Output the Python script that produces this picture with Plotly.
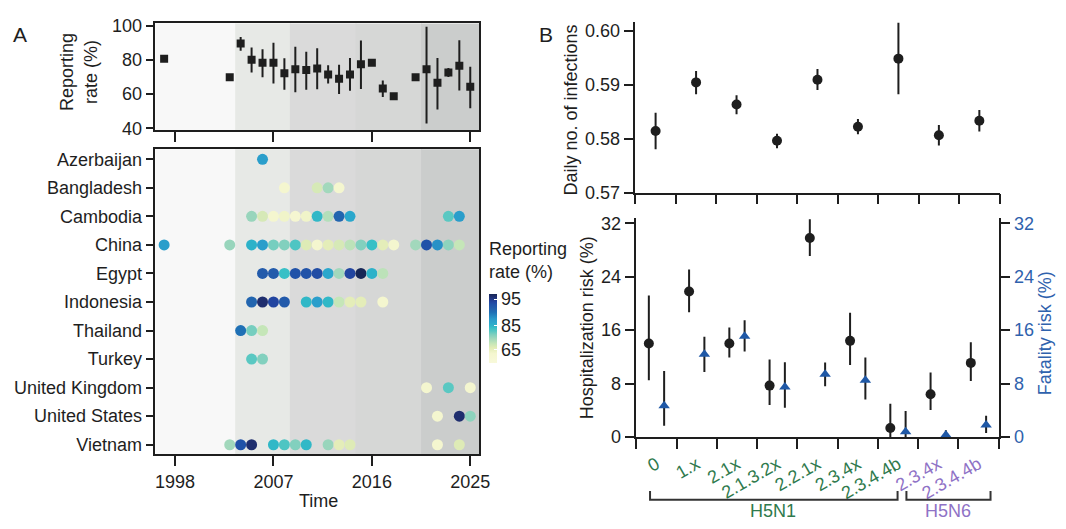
import numpy as np
import plotly.graph_objects as go

W, H = 1066, 529


def px(x):
    return x / W


def py(y):
    return 1 - y / H


# ---------------- Panel A data ----------------
year_ticks = [1998, 2007, 2016, 2025]
band_edges = [1996.2, 2003.5, 2008.5, 2014.5, 2020.5, 2025.8]
band_colors = ["#f8f8f8", "#e7e9e6", "#dadada", "#d6d7d6", "#cbcdcc"]

top_years = [1997, 2003, 2004, 2005, 2006, 2007, 2008, 2009, 2010, 2011, 2012, 2013,
             2014, 2015, 2016, 2017, 2018, 2020, 2021, 2022, 2023, 2024, 2025]
top_rate = [80.6, 69.8, 89.6, 80.0, 78.3, 78.3, 72.1, 74.5, 74.0, 74.9, 71.5, 68.9,
            71.5, 77.4, 78.3, 63.2, 58.7, 69.8, 74.5, 66.6, 72.6, 76.6, 64.2]
top_hi = [80.6, 69.8, 93.4, 87.2, 86.2, 90.0, 80.9, 87.7, 84.7, 86.8, 76.8, 77.2,
          81.1, 91.3, 78.3, 67.9, 58.7, 69.8, 99.4, 81.1, 75.3, 91.5, 76.0]
top_lo = [80.6, 69.8, 85.3, 72.6, 69.8, 66.2, 62.5, 61.0, 62.5, 62.8, 66.2, 60.0,
          61.9, 63.0, 78.3, 58.3, 58.7, 69.8, 42.8, 50.9, 70.0, 62.1, 51.7]

countries = ["Azerbaijan", "Bangladesh", "Cambodia", "China", "Egypt", "Indonesia",
             "Thailand", "Turkey", "United Kingdom", "United States", "Vietnam"]
country_years = [
    [2006],
    [2008, 2011, 2012, 2013],
    [2005, 2006, 2007, 2008, 2009, 2010, 2011, 2012, 2013, 2014, 2023, 2024],
    [1997, 2003, 2005, 2006, 2007, 2008, 2009, 2010, 2011, 2012, 2013, 2014, 2015,
     2016, 2017, 2018, 2020, 2021, 2022, 2023, 2024],
    [2006, 2007, 2008, 2009, 2010, 2011, 2012, 2013, 2014, 2015, 2016, 2017],
    [2005, 2006, 2007, 2008, 2010, 2011, 2012, 2013, 2014, 2015, 2017],
    [2004, 2005, 2006],
    [2005, 2006],
    [2021, 2023, 2025],
    [2022, 2024, 2025],
    [2003, 2004, 2005, 2007, 2008, 2009, 2010, 2012, 2013, 2014, 2022, 2024],
]
country_rates = [
    [87],
    [62, 68, 74, 62],
    [75, 68, 62, 63, 61, 63, 84, 72, 91, 86, 80, 87],
    [87, 75, 85, 87, 78, 77, 81, 67, 62, 66, 68, 71, 77, 83, 66, 62, 74, 93, 88, 76, 70],
    [92, 92, 83, 93, 93, 93.5, 86, 74, 94, 97, 85, 71],
    [91, 96, 94, 92, 84, 87, 84, 70, 66, 66, 62],
    [90, 78, 70],
    [80, 77],
    [62, 80, 62],
    [62, 96, 76],
    [74, 93, 96, 84, 81, 77, 84, 75, 66, 67, 62, 67],
]
cbar_ticks = [65, 85, 95]

# non-linear colour bar scale (value -> position on bar)
scale_vals = [55, 65, 85, 95, 97]
scale_pos = [0.0, 0.196, 0.543, 0.924, 1.0]
colorscale = [[0, "#f8f9da"], [0.137, "#f4f6cf"], [0.222, "#e2ecb6"], [0.283, "#c5e6b8"],
              [0.361, "#9dd6bc"], [0.413, "#7dcfbe"], [0.456, "#5ac8c2"], [0.508, "#38c0c6"],
              [0.534, "#2eb4c8"], [0.581, "#2aa7cc"], [0.638, "#2a9aca"], [0.733, "#1f70b5"],
              [0.79, "#2460ac"], [0.848, "#2152a8"], [0.886, "#2245a0"], [0.962, "#1f2e6e"],
              [1, "#172756"]]

# ---------------- Panel B data ----------------
clades = ["0", "1.x", "2.1x", "2.1.3.2x", "2.2.1x", "2.3.4x", "2.3.4.4b", "2.3.4x", "2.3.4.4b"]
clade_subtype = ["H5N1"] * 7 + ["H5N6"] * 2
subtype_colors = {"H5N1": "#2f7a4d", "H5N6": "#8f72c6"}

inf_mean = [0.5814, 0.5904, 0.5863, 0.5796, 0.5909, 0.5822, 0.5948, 0.5806, 0.5833]
inf_hi = [0.5848, 0.5925, 0.5880, 0.5809, 0.5929, 0.5836, 0.6015, 0.5825, 0.5853]
inf_lo = [0.5780, 0.5882, 0.5845, 0.5782, 0.5890, 0.5808, 0.5882, 0.5787, 0.5813]

hosp_mean = [14.0, 21.8, 14.0, 7.7, 29.8, 14.4, 1.35, 6.4, 11.1]
hosp_hi = [21.2, 25.1, 16.4, 11.6, 32.6, 18.6, 5.0, 9.65, 14.2]
hosp_lo = [8.5, 18.7, 11.9, 4.8, 27.1, 10.8, 0.0, 4.05, 8.4]

fat_mean = [4.7, 12.4, 15.1, 7.5, 9.4, 8.5, 0.8, 0.3, 1.8]
fat_hi = [9.9, 15.0, 17.5, 11.2, 11.15, 11.9, 3.9, 1.0, 3.2]
fat_lo = [1.7, 9.75, 12.8, 4.4, 7.6, 5.6, 0.0, 0.0, 0.6]

risk_ticks = [0, 8, 16, 24, 32]
inf_ticks = [0.57, 0.58, 0.59, 0.60]

INK = "#1e1e1e"
BLUE = "#1f58a6"
FONT = "Arial, Liberation Sans, Helvetica, sans-serif"
FS = 18

fig = go.Figure()

# Panel A top: reporting rate by year
tr = np.array(top_rate)
fig.add_trace(go.Scatter(
    x=top_years, y=top_rate, mode="markers", xaxis="x", yaxis="y",
    marker=dict(symbol="square", size=8, color=INK),
    error_y=dict(type="data", symmetric=False,
                 array=np.array(top_hi) - tr, arrayminus=tr - np.array(top_lo),
                 color=INK, thickness=2, width=0),
))

# Panel A bottom: country dots
xs, ys, vs = [], [], []
for c, yrs, rts in zip(countries, country_years, country_rates):
    xs += yrs
    ys += [c] * len(yrs)
    vs += rts
pos = np.interp(vs, scale_vals, scale_pos)
fig.add_trace(go.Scatter(
    x=xs, y=ys, mode="markers", xaxis="x2", yaxis="y2",
    marker=dict(size=11, color=pos, colorscale=colorscale, cmin=0, cmax=1,
                line=dict(width=0),
                colorbar=dict(x=px(494), xanchor="left", xpad=0, y=py(332), yanchor="middle",
                              len=92 / H, lenmode="fraction", thickness=8, outlinewidth=0,
                              tickmode="array",
                              tickvals=list(np.interp(cbar_ticks, scale_vals, scale_pos)),
                              ticktext=[str(t) for t in cbar_ticks],
                              ticks="inside", ticklen=3, tickcolor="white", tickwidth=1,
                              tickfont=dict(size=FS, color=INK, family=FONT))),
))

# Panel B top: daily infections
idx = np.arange(len(clades))
im = np.array(inf_mean)
fig.add_trace(go.Scatter(
    x=idx, y=inf_mean, mode="markers", xaxis="x3", yaxis="y3",
    marker=dict(symbol="circle", size=10, color=INK),
    error_y=dict(type="data", symmetric=False, array=np.array(inf_hi) - im,
                 arrayminus=im - np.array(inf_lo), color=INK, thickness=2, width=0),
))

# Panel B bottom: hospitalization (left) and fatality (right)
off = 0.19
hm = np.array(hosp_mean)
fig.add_trace(go.Scatter(
    x=idx - off, y=hosp_mean, mode="markers", xaxis="x4", yaxis="y4", cliponaxis=False,
    marker=dict(symbol="circle", size=10, color=INK),
    error_y=dict(type="data", symmetric=False, array=np.array(hosp_hi) - hm,
                 arrayminus=hm - np.array(hosp_lo), color=INK, thickness=2, width=0),
))
fm = np.array(fat_mean)
fig.add_trace(go.Scatter(
    x=idx + off, y=fat_mean, mode="markers", xaxis="x4", yaxis="y5", cliponaxis=False,
    marker=dict(symbol="triangle-up", size=10, color=BLUE),
    error_y=dict(type="data", symmetric=False, array=np.array(fat_hi) - fm,
                 arrayminus=fm - np.array(fat_lo), color=INK, thickness=2, width=0),
))

axis_common = dict(showgrid=False, zeroline=False, showline=True, linecolor=INK, linewidth=1.5,
                   ticks="outside", tickcolor=INK, tickwidth=1.5,
                   tickfont=dict(size=FS, color=INK, family=FONT))

tick_text_b = [f"<span style='color:{subtype_colors[s]}'>{c}</span>"
               for c, s in zip(clades, clade_subtype)]

fig.update_layout(
    width=W, height=H, margin=dict(l=0, r=0, t=0, b=0), autosize=False,
    paper_bgcolor="white", plot_bgcolor="rgba(0,0,0,0)", showlegend=False,
    font=dict(family=FONT, size=FS, color=INK),
    xaxis=dict(domain=[px(157), px(484)], anchor="y", range=[band_edges[0], band_edges[-1]],
               tickvals=year_ticks, showticklabels=False, ticklen=10, mirror=True, **axis_common),
    yaxis=dict(domain=[py(127), py(17)], anchor="x", range=[39, 101.3],
               tickvals=[40, 60, 80, 100], ticklen=8, mirror=True, **axis_common),
    xaxis2=dict(domain=[px(157), px(484)], anchor="y2", range=[band_edges[0], band_edges[-1]],
                tickvals=year_ticks, ticklen=10, mirror=True, **axis_common),
    yaxis2=dict(domain=[py(462), py(147)], anchor="x2", type="category",
                categoryorder="array", categoryarray=countries, range=[10.33, -0.35],
                ticklen=8, mirror=True, **axis_common),
    xaxis3=dict(domain=[px(642), px(1010)], anchor="y3", range=[-0.5, 8.5],
                tickvals=list(np.arange(len(clades) + 1) - 0.5), showticklabels=False,
                ticklen=10, **axis_common),
    yaxis3=dict(domain=[py(191.7), py(16)], anchor="x3", range=[0.57, 0.6015],
                tickvals=inf_ticks, ticktext=[f"{t:.2f}" for t in inf_ticks], ticklen=10,
                **axis_common),
    xaxis4=dict(domain=[px(643), px(1009)], anchor="y4", range=[-0.5, 8.5],
                tickvals=list(idx), ticktext=tick_text_b, tickangle=-30, ticklen=0,
                ticklabelstandoff=8,
                minor=dict(tickmode="array", tickvals=list(np.arange(len(clades) + 1) - 0.5),
                           ticks="outside", ticklen=10, tickcolor=INK, tickwidth=1.5),
                **{k: v for k, v in axis_common.items() if k != "ticks"}, ticks=""),
    yaxis4=dict(domain=[py(444.3), py(218)], anchor="x4", range=[0, 32.8],
                tickvals=risk_ticks, ticklen=10, **axis_common),
    yaxis5=dict(overlaying="y4", anchor="x4", side="right", range=[0, 32.8],
                tickvals=risk_ticks, ticklen=10,
                **{k: v for k, v in axis_common.items() if k != "tickfont"},
                tickfont=dict(size=FS, color="#2f62ad", family=FONT)),
)

# background bands in panel A (slight overlap avoids hairline gaps)
shapes = []
for ax in ["", "2"]:
    for i, col in enumerate(band_colors):
        x1 = band_edges[i + 1] + (0.1 if i < len(band_colors) - 1 else 0)
        shapes.append(dict(type="rect", xref="x" + ax, yref=("y" + ax) + " domain",
                           x0=band_edges[i], x1=x1, y0=0, y1=1,
                           fillcolor=col, line=dict(width=0), layer="below"))

# subtype brackets under panel B
bracket_spans = {"H5N1": (-0.16, 5.99), "H5N6": (6.21, 8.3)}
label_x = {"H5N1": 2.9, "H5N6": 7.25}
annotations = []
for s, (a, b) in bracket_spans.items():
    shapes.append(dict(type="path", xref="x4", yref="paper",
                       path=f"M {a},{py(500)} L {a},{py(509)} L {b},{py(509)} L {b},{py(500)}",
                       line=dict(color="#333333", width=2)))
    annotations.append(dict(x=label_x[s], y=py(521), xref="x4", yref="paper", text=s,
                            showarrow=False, font=dict(size=FS, color=subtype_colors[s]),
                            xanchor="center", yanchor="middle"))


def ann(x, y, text, size=FS, color=INK, angle=0, xanchor="center", align="center"):
    annotations.append(dict(x=px(x), y=py(y), xref="paper", yref="paper", text=text,
                            showarrow=False, textangle=angle, xanchor=xanchor,
                            yanchor="middle", align=align,
                            font=dict(size=size, color=color, family=FONT)))


ann(20, 28, "A", size=21)
ann(552, 28, "B", size=21)
ann(80, 67, "Reporting<br>rate (%)", angle=-90)
ann(322, 510, "Time")
ann(492, 262, "Reporting<br>rate (%)", xanchor="left", align="left")
ann(577, 107, "Daily no. of infections", angle=-90)
ann(593, 331, "Hospitalization risk (%)", angle=-90)
ann(1056, 337, "Fatality risk (%)", color="#2f62ad", angle=-90)

fig.update_layout(shapes=shapes, annotations=annotations)

fig.write_html(
    "out.html",
    config={"displayModeBar": False},
    post_script="document.body.style.margin='0';document.body.style.overflow='hidden';",
)
